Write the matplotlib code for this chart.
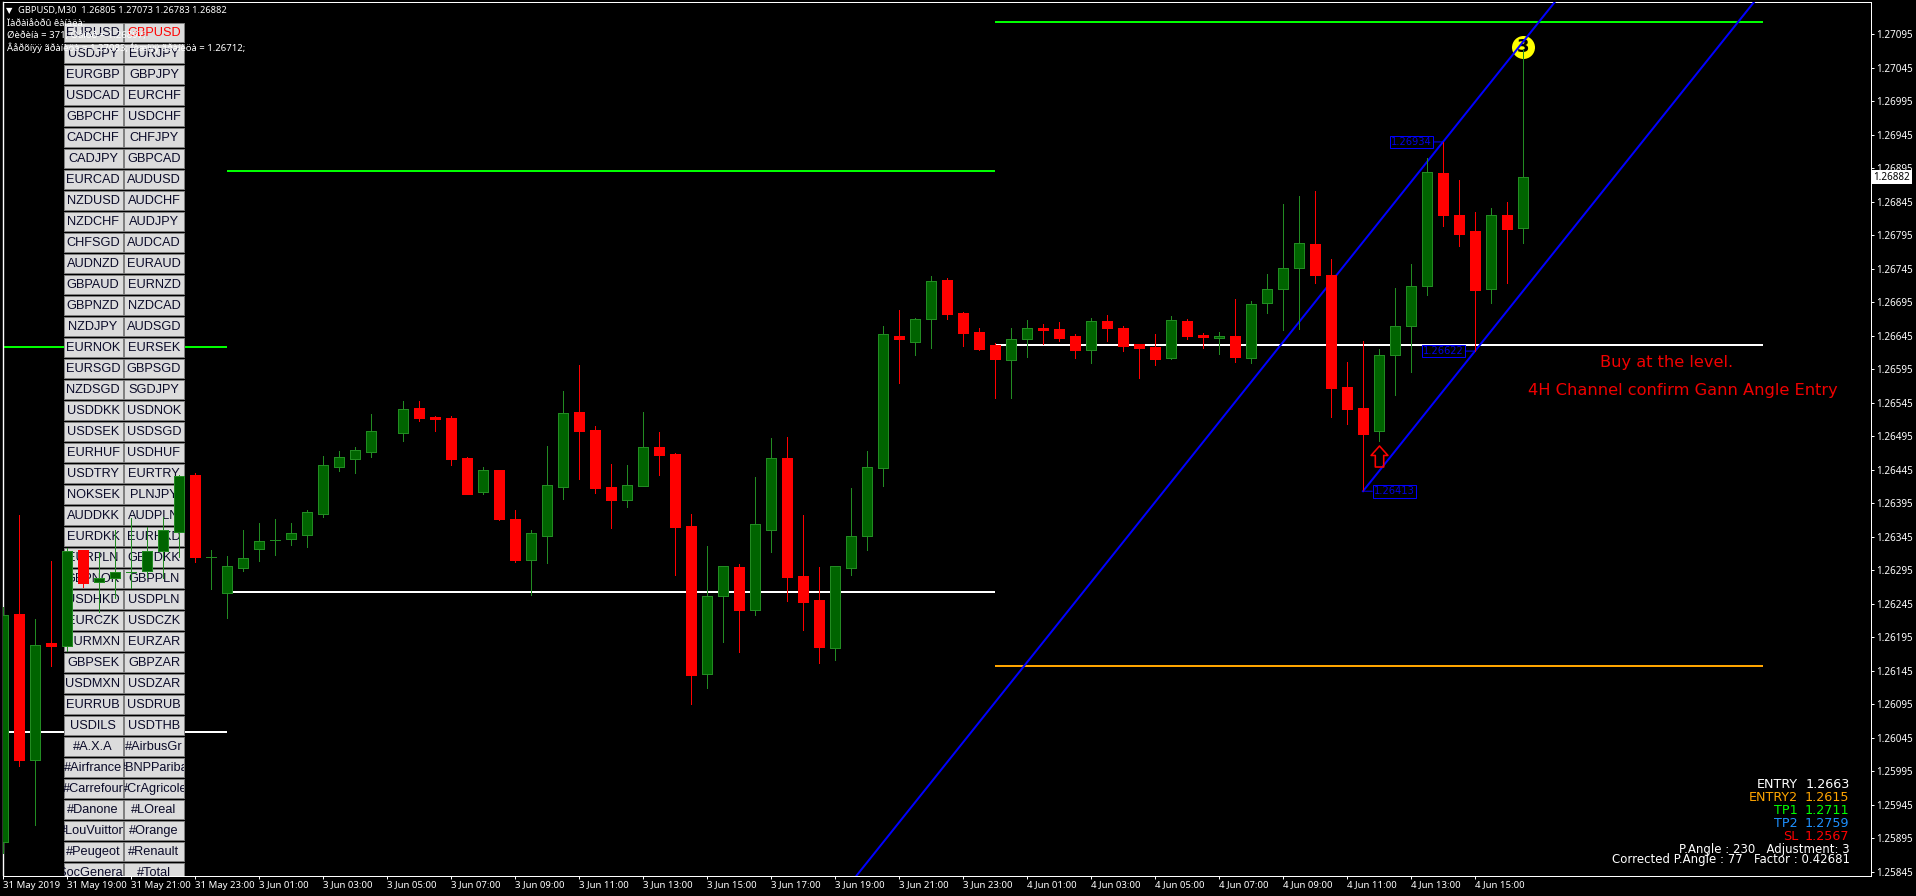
import numpy as np
import matplotlib
matplotlib.use("Agg")
import matplotlib.pyplot as plt
from matplotlib.patches import Rectangle
from matplotlib.path import Path

nan = float("nan")

# ---------------- data ----------------
bar_open = [1.25890,1.26230,1.26012,1.26187,1.26182,1.26325,1.26278,1.26284,1.26293,1.26294,
            1.26324,1.26352,1.26437,1.26315,1.26261,1.26299,1.26327,1.26340,1.26342,1.26348,
            1.26379,1.26449,1.26461,1.26472,nan,1.26500,1.26537,1.26524,1.26522,1.26463,
            1.26412,1.26445,1.26372,1.26310,1.26346,1.26419,1.26531,1.26504,1.26419,1.26400,
            1.26421,1.26479,1.26469,1.26361,1.26140,1.26257,1.26300,1.26236,1.26355,1.26463,
            1.26287,1.26251,1.26179,1.26299,1.26346,1.26448,1.26645,1.26636,1.26670,1.26728,
            1.26679,1.26650,1.26631,1.26609,1.26640,1.26656,1.26655,1.26645,1.26624,1.26667,
            1.26656,1.26633,1.26628,1.26612,1.26667,1.26646,1.26642,1.26645,1.26612,1.26694,
            1.26715,1.26746,1.26782,1.26735,1.26568,1.26537,1.26503,1.26616,1.26659,1.26719,
            1.26888,1.26825,1.26801,1.26715,1.26825,1.26805]
bar_high = [1.26240,1.26378,1.26222,1.26309,1.26328,1.26325,1.26322,1.26355,1.26373,1.26360,
            1.26375,1.26437,1.26440,1.26325,1.26316,1.26355,1.26366,1.26372,1.26366,1.26385,
            1.26465,1.26473,1.26479,1.26528,nan,1.26548,1.26548,1.26525,1.26525,1.26464,
            1.26449,1.26445,1.26385,1.26355,1.26480,1.26562,1.26601,1.26510,1.26454,1.26452,
            1.26531,1.26501,1.26470,1.26379,1.26331,1.26301,1.26304,1.26434,1.26492,1.26494,
            1.26378,1.26300,1.26301,1.26418,1.26473,1.26659,1.26683,1.26671,1.26734,1.26731,
            1.26680,1.26656,1.26634,1.26656,1.26668,1.26662,1.26665,1.26648,1.26671,1.26676,
            1.26659,1.26633,1.26648,1.26674,1.26670,1.26649,1.26650,1.26700,1.26697,1.26737,
            1.26841,1.26853,1.26861,1.26759,1.26606,1.26637,1.26625,1.26716,1.26752,1.26910,
            1.26934,1.26877,1.26830,1.26835,1.26844,1.27073]
bar_low = [1.25873,1.26003,1.25915,1.26152,1.26175,1.26270,1.26233,1.26254,1.26269,1.26285,
           1.26284,1.26315,1.26307,1.26267,1.26224,1.26294,1.26309,1.26318,1.26333,1.26330,
           1.26375,1.26443,1.26440,1.26464,nan,1.26488,1.26518,1.26503,1.26452,1.26409,
           1.26409,1.26370,1.26307,1.26258,1.26306,1.26401,1.26431,1.26410,1.26358,1.26390,
           1.26421,1.26437,1.26288,1.26096,1.26120,1.26188,1.26173,1.26228,1.26322,1.26249,
           1.26206,1.26157,1.26161,1.26288,1.26325,1.26421,1.26574,1.26616,1.26627,1.26670,
           1.26630,1.26624,1.26552,1.26552,1.26613,1.26633,1.26637,1.26612,1.26604,1.26637,
           1.26622,1.26582,1.26601,1.26610,1.26640,1.26627,1.26618,1.26606,1.26604,1.26679,
           1.26653,1.26655,1.26724,1.26524,1.26513,1.26413,1.26488,1.26557,1.26591,1.26706,
           1.26809,1.26779,1.26622,1.26694,1.26724,1.26783]
bar_close = [1.26228,1.26012,1.26184,1.26182,1.26324,1.26276,1.26284,1.26293,1.26293,1.26324,
             1.26355,1.26436,1.26315,1.26315,1.26301,1.26313,1.26339,1.26340,1.26351,1.26382,
             1.26452,1.26464,1.26475,1.26503,nan,1.26536,1.26522,1.26521,1.26461,1.26409,
             1.26445,1.26372,1.26310,1.26351,1.26422,1.26530,1.26503,1.26418,1.26400,1.26422,
             1.26479,1.26467,1.26360,1.26139,1.26257,1.26301,1.26236,1.26364,1.26463,1.26285,
             1.26248,1.26181,1.26301,1.26346,1.26449,1.26647,1.26640,1.26670,1.26727,1.26677,
             1.26649,1.26625,1.26610,1.26640,1.26656,1.26653,1.26642,1.26624,1.26667,1.26656,
             1.26630,1.26627,1.26610,1.26668,1.26645,1.26643,1.26645,1.26613,1.26692,1.26715,
             1.26746,1.26783,1.26735,1.26567,1.26536,1.26498,1.26616,1.26659,1.26719,1.26889,
             1.26825,1.26797,1.26713,1.26825,1.26804,1.26882]

y_ticks = [1.27095,1.27045,1.26995,1.26945,1.26895,1.26845,1.26795,1.26745,1.26695,
           1.26645,1.26595,1.26545,1.26495,1.26445,1.26395,1.26345,1.26295,1.26245,
           1.26195,1.26145,1.26095,1.26045,1.25995,1.25945,1.25895,1.25845]
x_labels = ["31 May 2019","31 May 19:00","31 May 21:00","31 May 23:00",
            "3 Jun 01:00","3 Jun 03:00","3 Jun 05:00","3 Jun 07:00","3 Jun 09:00","3 Jun 11:00",
            "3 Jun 13:00","3 Jun 15:00","3 Jun 17:00","3 Jun 19:00","3 Jun 21:00","3 Jun 23:00",
            "4 Jun 01:00","4 Jun 03:00","4 Jun 05:00","4 Jun 07:00","4 Jun 09:00","4 Jun 11:00",
            "4 Jun 13:00","4 Jun 15:00"]

level_start = [0, 0, 14, 14, 62, 62, 62]
level_end   = [14, 14, 62, 62, 110, 110, 110]
level_price = [1.26628, 1.26054, 1.26891, 1.26263, 1.27113, 1.26631, 1.26152]

channel_low_bar = [85, 92]
channel_low_price = [1.26413, 1.26622]
channel_high_bar = 90
channel_high_price = 1.26934

symbols_left = ["EURUSD","USDJPY","EURGBP","USDCAD","GBPCHF","CADCHF","CADJPY","EURCAD","NZDUSD",
                "NZDCHF","CHFSGD","AUDNZD","GBPAUD","GBPNZD","NZDJPY","EURNOK","EURSGD","NZDSGD",
                "USDDKK","USDSEK","EURHUF","USDTRY","NOKSEK","AUDDKK","EURDKK","EURPLN","GBPNOK",
                "USDHKD","EURCZK","EURMXN","GBPSEK","USDMXN","EURRUB","USDILS","#A.X.A","#Airfrance",
                "#Carrefour","#Danone","#LouVuitton","#Peugeot","#SocGenerale"]
symbols_right = ["GBPUSD","EURJPY","GBPJPY","EURCHF","USDCHF","CHFJPY","GBPCAD","AUDUSD","AUDCHF",
                 "AUDJPY","AUDCAD","EURAUD","EURNZD","NZDCAD","AUDSGD","EURSEK","GBPSGD","SGDJPY",
                 "USDNOK","USDSGD","USDHUF","EURTRY","PLNJPY","AUDPLN","EURHKD","GBPDKK","GBPPLN",
                 "USDPLN","USDCZK","EURZAR","GBPZAR","USDZAR","USDRUB","USDTHB","#AirbusGr","#BNPPariba",
                 "#CrAgricole","#LOreal","#Orange","#Renault","#Total"]

panel_names = ["ENTRY","ENTRY2","TP1","TP2","SL"]
panel_values = ["1.2663","1.2615","1.2711","1.2759","1.2567"]
peak_bar, peak_price = 95, 1.27076
arrow_bar, arrow_price = 86, 1.26465
last_price = 1.26882

# ---------------- layout ----------------
W, H = 1916, 896
DPI = 100
UP_BODY, UP_EDGE, DOWN = "#006400", "#228B22", "#FF0000"
px = 72.0 / DPI
level_colors = ["#00FF00","#FFFFFF","#00FF00","#FFFFFF","#00FF00","#FFFFFF","#FFA500"]

L, R, T, B = 2.5, 1870.5, 2.5, 875.5
fig = plt.figure(figsize=(W / DPI, H / DPI), dpi=DPI, facecolor="black")
ax = fig.add_axes([L / W, 1 - B / H, (R - L) / W, (B - T) / H], facecolor="black")

def price_at(y):
    return 1.27095 - (y - 34.0) / 67040.0

ax.set_ylim(price_at(B), price_at(T))
ax.set_xlim((L - 3.0) / 16.0, (R - 3.0) / 16.0)

for s in ax.spines.values():
    s.set_color("white")
    s.set_linewidth(1 * px)
ax.spines["left"].set_linewidth(1.4 * px)

AXFONT = "Noto Sans"
ax.yaxis.tick_right()
ax.set_yticks(y_ticks)
ax.set_yticklabels([f"{v:.5f}" for v in y_ticks], family=AXFONT, fontsize=7.1, color="white")
ax.tick_params(axis="y", length=3 * px, width=1 * px, color="white", pad=3 * px)
x_pos = np.arange(len(x_labels)) * 4
ax.set_xticks(x_pos)
ax.set_xticklabels(x_labels, family=AXFONT, fontsize=6.9, color="white", ha="left")
ax.tick_params(axis="x", length=3 * px, width=1 * px, color="white", pad=2 * px)

# horizontal levels (under the buttons)
for a, b, p, c in zip(level_start, level_end, level_price, level_colors):
    ax.plot([a, b], [p, p], color=c, lw=2 * px, zorder=1, solid_capstyle="butt", antialiased=False)

# symbol buttons
def fx(x): return x / W
def fy(y): return 1 - y / H

for r, (a, b) in enumerate(zip(symbols_left, symbols_right)):
    y0 = 23 + 21 * r
    for x0, name in ((63.5, a), (124.5, b)):
        rect = Rectangle((fx(x0), fy(y0 + 19)), 59 / W, 19 / H, transform=fig.transFigure,
                         facecolor="#DCDCDC", edgecolor="#808080", lw=1 * px, zorder=2)
        ax.add_patch(rect)
        t = ax.text(fx(x0 + 29.5), fy(y0 + 10), name, transform=fig.transFigure, ha="center",
                    va="center", family="Liberation Sans", fontsize=9.2,
                    color="#FF0000" if name == "GBPUSD" else "#0A0A28", zorder=2.2, clip_on=True)
        t.set_clip_path(rect)

# yellow marker under the channel line
ax.plot([peak_bar], [peak_price], "o", color="#FFFF00", ms=23 * px, mew=0, zorder=2.5)
ax.text(peak_bar, peak_price, "3", color="black", fontsize=13, fontweight="bold", family="DejaVu Sans",
        ha="center", va="center", zorder=2.6)

# channel
slope = (channel_low_price[1] - channel_low_price[0]) / (channel_low_bar[1] - channel_low_bar[0])
ax.axline((channel_high_bar, channel_high_price), slope=slope, color="#0000FF", lw=2 * px, zorder=4)
ax.plot([channel_low_bar[0], 116], [channel_low_price[0], channel_low_price[0] + slope * (116 - channel_low_bar[0])],
        color="#0000FF", lw=2 * px, zorder=4)

# candles
o, h, l, c = map(np.array, (bar_open, bar_high, bar_low, bar_close))
idx = np.arange(len(o))
ok = ~np.isnan(o)
down = ok & (c < o)
up = ok & ~(c < o)
ax.vlines(idx[up], l[up], h[up], color=UP_EDGE, lw=1 * px, zorder=5, antialiased=False)
ax.vlines(idx[down], l[down], h[down], color=DOWN, lw=1 * px, zorder=5, antialiased=False)
bw = 10.0 / 16
ax.bar(idx[up], (c - o)[up], bottom=o[up], width=bw, color=UP_BODY, edgecolor=UP_EDGE, lw=1 * px,
       zorder=5.1, antialiased=False)
ax.bar(idx[down], (c - o)[down], bottom=o[down], width=bw, color=DOWN, edgecolor=DOWN, lw=1 * px,
       zorder=5.1, antialiased=False)

# red hollow arrow
arrow = Path([(-.2, -.5), (-.2, .05), (-.4, .05), (0, .5), (.4, .05), (.2, .05), (.2, -.5), (-.2, -.5)], closed=True)
ax.plot([arrow_bar], [arrow_price], marker=arrow, ms=21 * px, mfc="none", mec="#FF0000", mew=1.6 * px, zorder=6, ls="none")

# price tags
for (bar, price, dx, dy) in ((90, 1.26934, -11, 0), (92, 1.26622, -11, 0), (85, 1.26413, 11, 0)):
    ax.annotate(f"{price:.5f}", xy=(bar, price), xytext=(dx, dy), textcoords="offset pixels",
                ha="right" if dx < 0 else "left", va="center", family="DejaVu Sans", fontsize=7.1,
                color="#0000E0", zorder=6,
                bbox=dict(boxstyle="square,pad=0.14", fc="black", ec="#0000FF", lw=1 * px),
                arrowprops=dict(arrowstyle="-", color="#0000FF", lw=1 * px, shrinkA=0, shrinkB=0))

# current price tag
ax.text(1892 / W, fy(177), f"{last_price:.5f}", transform=fig.transFigure, ha="center", va="center",
        family=AXFONT, fontsize=7.1, color="black", zorder=7, clip_on=False,
        bbox=dict(boxstyle="square,pad=0.14", fc="white", ec="white", lw=0))

# header
fig.text(fx(5.5), fy(10.5), "\u25bc", color="white", fontsize=6, family="DejaVu Sans", va="center")
fig.text(fx(18), fy(10.5), "GBPUSD,M30  1.26805 1.27073 1.26783 1.26882", color="white",
         fontsize=6.7, family=AXFONT, va="center")
for y, s in ((24, "\u00cf\u00e0\u00f0\u00e0\u00ec\u00e5\u00f2\u00f0\u00fb \u00ea\u00e0\u00ed\u00e0\u00eb\u00e0:"),
             (35.5, "\u00d8\u00e8\u00f0\u00e8\u00ed\u00e0 = 371; \u00d6\u00e5\u00ed\u00f2\u00f0 = 1.26897;"),
             (47.5, "\u00c2\u00e5\u00f0\u00f5\u00ed\u00ff\u00ff \u00e3\u00f0\u00e0\u00ed\u00e8\u00f6\u00e0 = 1.27083; \u00cd\u00e8\u00e6\u00ed\u00ff\u00ff \u00e3\u00f0\u00e0\u00ed\u00e8\u00f6\u00e0 = 1.26712;")):
    ax.text(fx(7), fy(y), s, transform=fig.transFigure, color="white", fontsize=6.85, family=AXFONT,
            va="center", zorder=3)

# red notes
fig.text(fx(1667), fy(362), "Buy at the level.", color="#F00000", fontsize=11.7, family="DejaVu Sans", ha="center", va="center")
fig.text(fx(1683), fy(390), "4H Channel confirm Gann Angle Entry", color="#F00000", fontsize=11.7, family="DejaVu Sans", ha="center", va="center")

# bottom right panel
panel_colors = ["#FFFFFF", "#FFA500", "#00FF00", "#1E90FF", "#FF0000"]
for i, (n, v, col) in enumerate(zip(panel_names, panel_values, panel_colors)):
    y = 784 + 13 * i
    fig.text(fx(1798), fy(y), n, color=col, fontsize=9.2, family="DejaVu Sans", ha="right", va="center")
    fig.text(fx(1849.5), fy(y), v, color=col, fontsize=9.2, family="DejaVu Sans", ha="right", va="center")
fig.text(fx(1849.5), fy(849.5), "P.Angle : 230   Adjustment: 3", color="white", fontsize=8.5,
         family="DejaVu Sans", ha="right", va="center")
fig.text(fx(1849.5), fy(859.5), "Corrected P.Angle : 77   Factor : 0.42681", color="white", fontsize=8.5,
         family="DejaVu Sans", ha="right", va="center")

fig.savefig("out.png", dpi=DPI, facecolor="black")
